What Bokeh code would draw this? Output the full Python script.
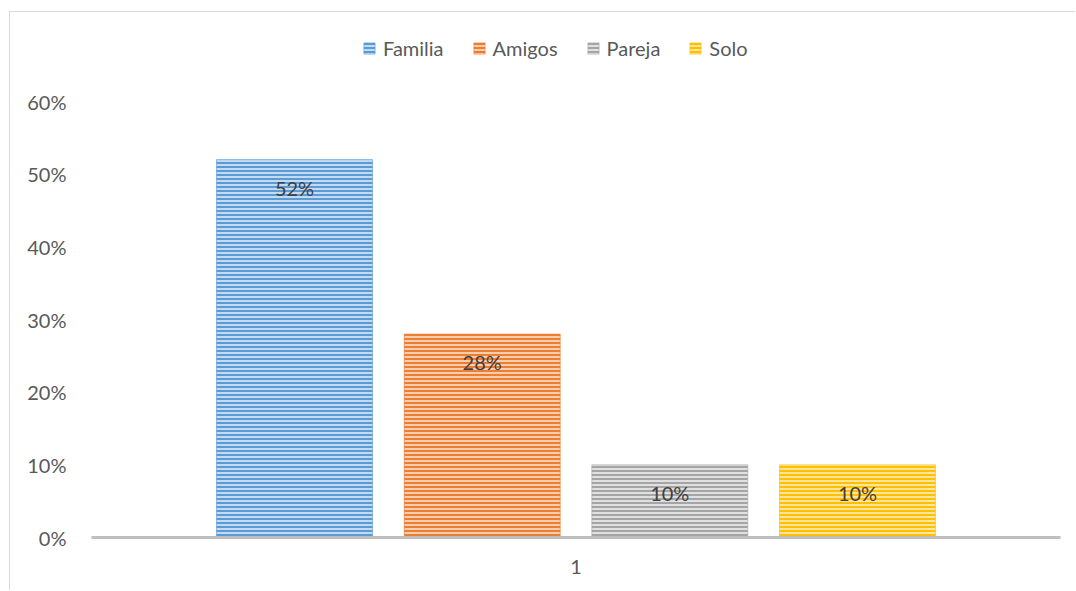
from bokeh.plotting import figure
from bokeh.models import (FactorRange, Range1d, ColumnDataSource, LabelSet, Legend,
                          LegendItem, FixedTicker, NumeralTickFormatter)
from bokeh.core.properties import value
from bokeh.transform import dodge
from bokeh.embed import file_html
from bokeh.resources import INLINE

# ---- data ----
group = ["1"]
series = ["Familia", "Amigos", "Pareja", "Solo"]
values = [0.52, 0.28, 0.10, 0.10]
y_ticks = [0.0, 0.1, 0.2, 0.3, 0.4, 0.5, 0.6]

# ---- styling ----
dark = ["#5b9bd5", "#ed7d31", "#a5a5a5", "#ffc000"]
light = ["#c3daf0", "#f9cdb0", "#e0e0e0", "#ffe49a"]
offsets = [-0.2905, -0.0968, 0.0968, 0.2905]
FONT = "Lato"

W, H = 1066, 579
p = figure(x_range=FactorRange(factors=group, range_padding=0),
           y_range=Range1d(0, 0.71147),
           width=W, height=H, output_backend="svg", toolbar_location=None,
           min_border_left=81, min_border_right=16, min_border_top=8, min_border_bottom=54)
p.styles = {"margin-left": "9px", "margin-top": "11px",
            "border-left": "1px solid #d9d9d9", "border-top": "1px solid #d9d9d9"}
p.outline_line_color = None
p.xgrid.visible = False
p.ygrid.visible = False

items = []
for name, val, dk, lt, off in zip(series, values, dark, light, offsets):
    src = ColumnDataSource(dict(cat=group, v=[val], lab=[f"{round(val*100)}%"]))
    r = p.vbar(x=dodge("cat", off, range=p.x_range), top="v", bottom=0, width=0.161,
               source=src, fill_color=lt, line_color=dk, line_width=1, line_alpha=0.6,
               hatch_pattern="horizontal_line", hatch_color=dk, hatch_scale=4, hatch_weight=2)
    items.append(LegendItem(label=name, renderers=[r]))
    p.add_layout(LabelSet(x=dodge("cat", off, range=p.x_range), y="v", text="lab", source=src,
                          y_offset=-28, text_align="center", text_baseline="middle",
                          text_font=value(FONT), text_font_size=value("20px"),
                          text_color="#404040"))

legend = Legend(items=items, orientation="horizontal", location=(271, 477),
                padding=0, margin=0, spacing=28, label_standoff=7,
                glyph_width=14, glyph_height=14, label_height=20,
                label_text_font=FONT, label_text_font_size="20px", label_text_color="#595959",
                border_line_color=None, background_fill_alpha=0)
p.add_layout(legend)

ya = p.yaxis[0]
ya.ticker = FixedTicker(ticks=y_ticks)
ya.formatter = NumeralTickFormatter(format="0%")
ya.axis_line_color = None
ya.major_tick_line_color = None
ya.minor_tick_line_color = None
ya.major_label_standoff = 19
ya.major_label_text_font = FONT
ya.major_label_text_font_size = "20px"
ya.major_label_text_color = "#595959"

xa = p.xaxis[0]
xa.axis_line_color = "#bfbfbf"
xa.axis_line_width = 3
xa.major_tick_line_color = None
xa.minor_tick_line_color = None
xa.major_label_standoff = 16
xa.major_label_text_font = FONT
xa.major_label_text_font_size = "20px"
xa.major_label_text_color = "#595959"
xa.major_label_orientation = "horizontal"

open("out.html", "w").write(file_html(p, INLINE))
